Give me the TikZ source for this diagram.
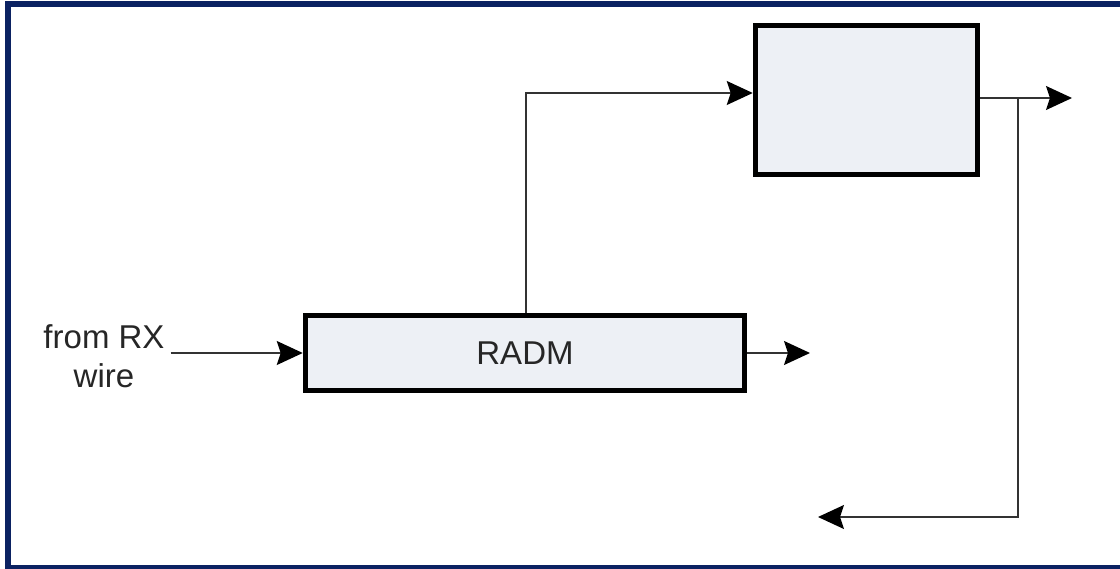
\documentclass[tikz,border=0pt]{standalone}
\usepackage{fontspec}
\setmainfont{Liberation Sans}
\usetikzlibrary{
  arrows.meta,              % arrow tips
  calc,                     % coordinate calculations
  positioning               % relative placement
}
\definecolor{framenavy}{HTML}{0B2262}
\definecolor{boxfill}{HTML}{EDF0F5}

\begin{document}
\begin{tikzpicture}[x=1pt, y=-1pt, >={Stealth[length=26pt, width=24pt, inset=4pt, fill=black, color=black]},
    blk/.style={draw=black, line width=5.5pt, fill=boxfill, inner sep=0pt},
    conn/.style={draw=black!80, line width=1.5pt, ->},
    lbl/.style={text=black!85, font=\fontsize{33}{39}\selectfont}]
    % page size in pixels
    \def\pageW{1120}
    \def\pageH{569}
    \useasboundingbox (0, 0) rectangle (\pageW, \pageH);

    % --- outer frame (open on the right) ---
    \draw[framenavy, line width=6pt] (\pageW+10, 4.5) -- (8, 4.5) -- (8, 567.5) -- (\pageW+10, 567.5);

    % --- blocks ---
    \node[blk, lbl, minimum width=439pt, minimum height=75pt] (radm) at (525, 353) {RADM};
    \node[blk, minimum width=222pt, minimum height=149pt] (upper) at (866.5, 100) {};

    % --- input label ---
    \node[lbl, align=center, inner sep=6pt] (rxwire) at (104, 356) {from RX\\wire};

    % --- helper points ---
    \coordinate (bend) at (526, 93);
    \coordinate (tap) at (1018, 98);
    \coordinate (outupper) at (1072, 98);
    \coordinate (outradm) at (810, 353);
    \coordinate (back) at (818, 517);

    % --- connectors ---
    \draw[conn] (rxwire.east |- radm.west) -- (radm.west);
    \draw[conn] (radm.north -| bend) -- (bend) -- (upper.west |- bend);
    \draw[conn] (radm.east) -- (outradm);
    \draw[conn] (upper.east |- tap) -- (outupper);
    \draw[conn] (tap) |- (back);

  \end{tikzpicture}
\end{document}
